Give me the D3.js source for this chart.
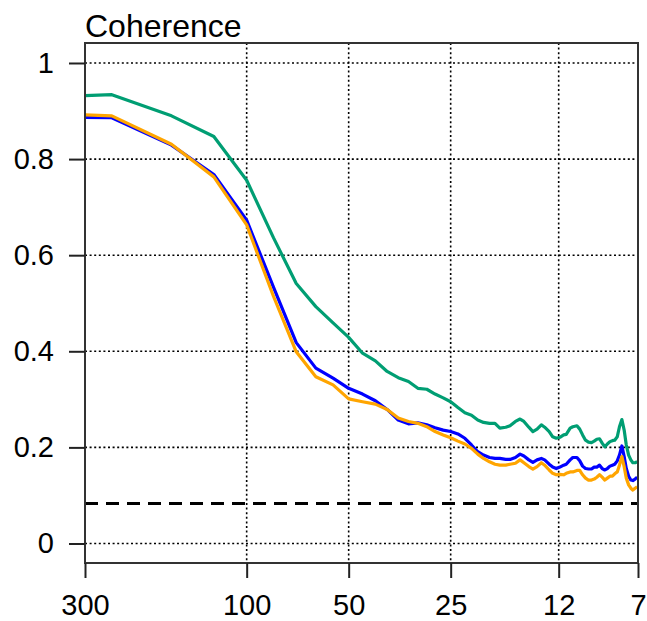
<!DOCTYPE html>
<html>
<head>
<meta charset="utf-8">
<script src="https://cdn.jsdelivr.net/npm/d3@7"></script>
<style>
  html, body { margin: 0; padding: 0; background: #fff; overflow: hidden; }
  text { font-family: "Liberation Sans", Arial, Helvetica, sans-serif; fill: #000; }
</style>
</head>
<body>
<svg id="chart" width="647" height="621"></svg>
<script>
// ---- data ----
const title = "Coherence";
const periods = [300, 250, 166.7, 125, 100, 83.3, 71.4, 62.5, 55.6, 50,
  45.5, 41.7, 38.5, 35.7, 33.3, 31.25, 29.4, 27.8, 26.3, 25,
  23.8, 22.7, 21.7, 20.8, 20, 19.2, 18.5, 17.9, 17.2, 16.7,
  16.1, 15.6, 15.2, 14.7, 14.3, 13.9, 13.5, 13.2, 12.8, 12.5,
  12.2, 11.9, 11.6, 11.4, 11.1, 10.9, 10.6, 10.4, 10.2, 10,
  9.8, 9.6, 9.43, 9.26, 9.09, 8.93, 8.77, 8.62, 8.47, 8.33,
  8.2, 8.06, 7.94, 7.81, 7.69, 7.58, 7.46, 7.35, 7.25, 7.14, 7.04];

const greenValues = [0.932, 0.934, 0.890, 0.847, 0.756, 0.636, 0.541, 0.493, 0.459, 0.429,
  0.396, 0.380, 0.358, 0.345, 0.337, 0.323, 0.321, 0.311, 0.303, 0.295,
  0.283, 0.272, 0.267, 0.257, 0.252, 0.250, 0.250, 0.240, 0.242, 0.245,
  0.254, 0.259, 0.254, 0.242, 0.233, 0.238, 0.247, 0.242, 0.233, 0.222,
  0.219, 0.221, 0.226, 0.227, 0.240, 0.243, 0.245, 0.238, 0.226, 0.215,
  0.211, 0.210, 0.213, 0.217, 0.218, 0.209, 0.201, 0.207, 0.212, 0.214,
  0.215, 0.222, 0.243, 0.258, 0.236, 0.205, 0.184, 0.174, 0.168, 0.168, 0.170];

const blueValues = [0.887, 0.886, 0.829, 0.768, 0.673, 0.533, 0.418, 0.365, 0.344, 0.323,
  0.311, 0.297, 0.279, 0.257, 0.249, 0.251, 0.247, 0.241, 0.236, 0.233,
  0.228, 0.219, 0.205, 0.191, 0.184, 0.179, 0.177, 0.177, 0.175, 0.175,
  0.179, 0.186, 0.182, 0.174, 0.169, 0.174, 0.177, 0.174, 0.165, 0.159,
  0.156, 0.159, 0.163, 0.165, 0.174, 0.179, 0.179, 0.172, 0.161, 0.156,
  0.155, 0.155, 0.159, 0.159, 0.163, 0.156, 0.153, 0.156, 0.161, 0.163,
  0.165, 0.172, 0.184, 0.203, 0.181, 0.156, 0.140, 0.132, 0.131, 0.134, 0.138];

const orangeValues = [0.892, 0.890, 0.831, 0.763, 0.663, 0.514, 0.399, 0.347, 0.330, 0.301,
  0.295, 0.290, 0.279, 0.261, 0.254, 0.250, 0.243, 0.233, 0.226, 0.220,
  0.213, 0.207, 0.198, 0.186, 0.177, 0.170, 0.165, 0.163, 0.163, 0.165,
  0.167, 0.174, 0.168, 0.160, 0.155, 0.160, 0.168, 0.163, 0.153, 0.146,
  0.143, 0.144, 0.143, 0.146, 0.149, 0.149, 0.152, 0.152, 0.143, 0.136,
  0.132, 0.132, 0.134, 0.138, 0.143, 0.138, 0.132, 0.136, 0.140, 0.140,
  0.145, 0.149, 0.163, 0.181, 0.160, 0.136, 0.122, 0.115, 0.111, 0.115, 0.118];

const significance = 0.083;

const xTicks = [300, 100, 50, 25, 12, 7];
const yTicks = [0, 0.2, 0.4, 0.6, 0.8, 1];
const yTickLabels = ["0", "0.2", "0.4", "0.6", "0.8", "1"];

const seriesList = [
  { name: "green", values: greenValues, color: "#009E73" },
  { name: "blue", values: blueValues, color: "#0000FF" },
  { name: "orange", values: orangeValues, color: "#FFA500" }
];

// ---- layout ----
const L = 85, R = 638, T = 43, B = 563;
const svg = d3.select("#chart");

const x = d3.scaleLog().domain([300, 7]).range([L, R]);
const y = d3.scaleLinear().domain([-0.0406, 1.0416]).range([B, T]);

svg.append("defs").append("clipPath").attr("id", "clip")
  .append("rect").attr("x", L).attr("y", T).attr("width", R - L).attr("height", B - T);

// grid
const grid = svg.append("g");
grid.selectAll("line.hg").data(yTicks).join("line")
  .attr("x1", L).attr("x2", R)
  .attr("y1", d => y(d)).attr("y2", d => y(d))
  .attr("stroke", "#000").attr("stroke-width", 1.6)
  .attr("stroke-dasharray", "2,2.6");
grid.selectAll("line.vg").data(xTicks.slice(1, -1)).join("line")
  .attr("x1", d => x(d)).attr("x2", d => x(d))
  .attr("y1", T).attr("y2", B)
  .attr("stroke", "#000").attr("stroke-width", 1.6)
  .attr("stroke-dasharray", "2,2.6");

// significance dashed line
svg.append("line")
  .attr("x1", L).attr("x2", R)
  .attr("y1", y(significance)).attr("y2", y(significance))
  .attr("stroke", "#000").attr("stroke-width", 3)
  .attr("stroke-dasharray", "13,8");

// series
const line = d3.line()
  .x((d, i) => x(periods[i]))
  .y(d => y(d));
const lines = svg.append("g").attr("clip-path", "url(#clip)");
seriesList.forEach(s => {
  lines.append("path")
    .datum(s.values)
    .attr("d", line)
    .attr("fill", "none")
    .attr("stroke", s.color)
    .attr("stroke-width", 3.2)
    .attr("stroke-linejoin", "round");
});

// frame
svg.append("rect")
  .attr("x", L).attr("y", T).attr("width", R - L).attr("height", B - T)
  .attr("fill", "none").attr("stroke", "#333").attr("stroke-width", 2);

// axes
const yAxis = d3.axisLeft(y).tickValues(yTicks)
  .tickFormat((d, i) => yTickLabels[i]).tickSize(16).tickPadding(15);
const gy = svg.append("g").attr("transform", `translate(${L},0)`).call(yAxis);
gy.select(".domain").remove();
gy.selectAll(".tick line").attr("stroke", "#222").attr("stroke-width", 2);
gy.selectAll(".tick text").attr("font-size", 29).attr("fill", "#000")
  .attr("font-family", "'Liberation Sans', Arial, Helvetica, sans-serif");

const xAxis = d3.axisBottom(x).tickValues(xTicks)
  .tickFormat(d => String(d)).tickSize(15).tickPadding(16);
const gx = svg.append("g").attr("transform", `translate(0,${B})`).call(xAxis);
gx.select(".domain").remove();
gx.selectAll(".tick line").attr("stroke", "#222").attr("stroke-width", 2);
gx.selectAll(".tick text").attr("font-size", 29).attr("fill", "#000")
  .attr("font-family", "'Liberation Sans', Arial, Helvetica, sans-serif");

// title
svg.append("text")
  .attr("x", L).attr("y", 37)
  .attr("font-size", 32)
  .text(title);
</script>
</body>
</html>
